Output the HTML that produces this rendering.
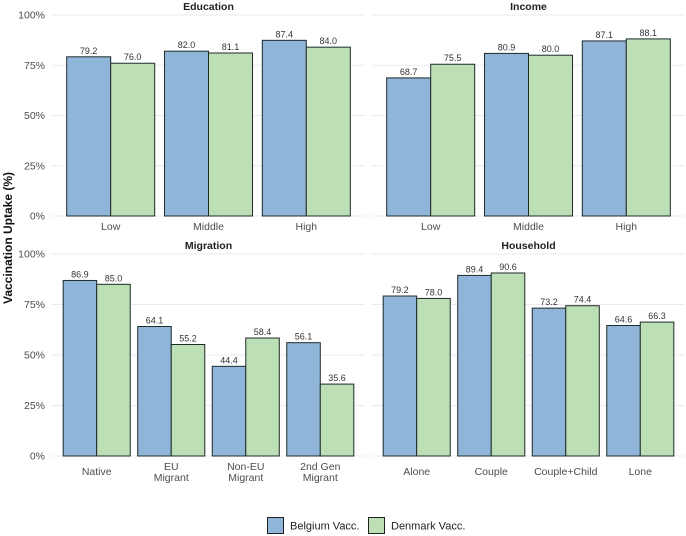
<!DOCTYPE html>
<html><head><meta charset="utf-8"><style>
html,body{margin:0;padding:0;background:#fff;}
svg{display:block;font-family:"Liberation Sans",Arial,sans-serif;}
</style></head><body>
<svg id="chart" width="686" height="536" viewBox="0 0 686 536" xmlns="http://www.w3.org/2000/svg">
<text x="0" y="0" transform="translate(12,238) rotate(-90)" text-anchor="middle" font-size="12" font-weight="bold" fill="#111">Vaccination Uptake (%)</text>
<g>
<rect x="267.5" y="517.5" width="16" height="16" fill="#8fb5d8" stroke="#222" stroke-width="1"/>
<text x="290" y="529.5" font-size="11" fill="#222">Belgium Vacc.</text>
<rect x="368.5" y="517.5" width="16" height="16" fill="#bcdfb5" stroke="#222" stroke-width="1"/>
<text x="391" y="529.5" font-size="11" fill="#222">Denmark Vacc.</text>
</g>
</svg>
<script>
const eduCats = ["Low","Middle","High"];
const eduBelgium = [79.2, 82.0, 87.4];
const eduDenmark = [76.0, 81.1, 84.0];
const incCats = ["Low","Middle","High"];
const incBelgium = [68.7, 80.9, 87.1];
const incDenmark = [75.5, 80.0, 88.1];
const migCats = ["Native","EU\nMigrant","Non-EU\nMigrant","2nd Gen\nMigrant"];
const migBelgium = [86.9, 64.1, 44.4, 56.1];
const migDenmark = [85.0, 55.2, 58.4, 35.6];
const hhCats = ["Alone","Couple","Couple+Child","Lone"];
const hhBelgium = [79.2, 89.4, 73.2, 64.6];
const hhDenmark = [78.0, 90.6, 74.4, 66.3];
const yTicks = [0, 25, 50, 75, 100];
const yTickLabels = ["0%","25%","50%","75%","100%"];

const NS = "http://www.w3.org/2000/svg";
const svg = document.getElementById("chart");
function mk(tag, attrs, parent){const e=document.createElementNS(NS,tag);for(const k in attrs)e.setAttribute(k,attrs[k]);(parent||svg).appendChild(e);return e;}

function panel(key, title, cats, bel, den, x0, x1, yTop, yBot, showY){
  const g = mk("g", {});
  
  
  const n = cats.length;
  const unit = (x1 - x0) / (n - 1 + 1.2);
  const xc = i => x0 + unit * (0.6 + i);
  const y = v => yBot - (v / 100) * (yBot - yTop);
  const bw = unit * 0.45;
  yTicks.forEach((t, i) => {
    const ln = mk("line", {x1:x0, x2:x1, y1:y(t), y2:y(t), stroke:"#ebebeb", "stroke-width":1}, g);
    
    
    if (showY) {
      const tl = mk("text", {x:x0 - 7, y:y(t) + 3.5, "text-anchor":"end", "font-size":"10.5", fill:"#4d4d4d"}, svg);
      tl.textContent = yTickLabels[i];
      
      
    }
  });
  const st = mk("text", {x:(x0 + x1) / 2, y:yTop - 5, "text-anchor":"middle", "font-size":"10.5", "font-weight":"bold", fill:"#222"}, g);
  st.textContent = title;
  
  
  cats.forEach((c, i) => {
    [[bel[i], "#8fb5d8", -1, "belgium"], [den[i], "#bcdfb5", 0, "denmark"]].forEach(([v, col, off, s]) => {
      const bx = xc(i) + off * bw;
      const r = mk("rect", {x:bx, y:y(v), width:bw, height:yBot - y(v), fill:col, stroke:"#1f2a2a", "stroke-width":1}, g);
      
      
      const vl = mk("text", {x:bx + bw / 2, y:y(v) - 3, "text-anchor":"middle", "font-size":"9", fill:"#333"}, g);
      vl.textContent = v.toFixed(1);
      
      
    });
    const lines = c.split("\n");
    lines.forEach((ln, j) => {
      const t = mk("text", {x:xc(i), y:yBot + 14 + j * 11 + (lines.length === 1 && n === 4 ? 5 : 0), "text-anchor":"middle", "font-size":"10.5", fill:"#4d4d4d"}, g);
      t.textContent = ln;
      
      
    });
  });
}
panel("education", "Education", eduCats, eduBelgium, eduDenmark, 52, 365, 15, 216, true);
panel("income", "Income", incCats, incBelgium, incDenmark, 372, 685, 15, 216, false);
panel("migration", "Migration", migCats, migBelgium, migDenmark, 52, 365, 254, 456, true);
panel("household", "Household", hhCats, hhBelgium, hhDenmark, 372, 685, 254, 456, false);
</script>
</body></html>
